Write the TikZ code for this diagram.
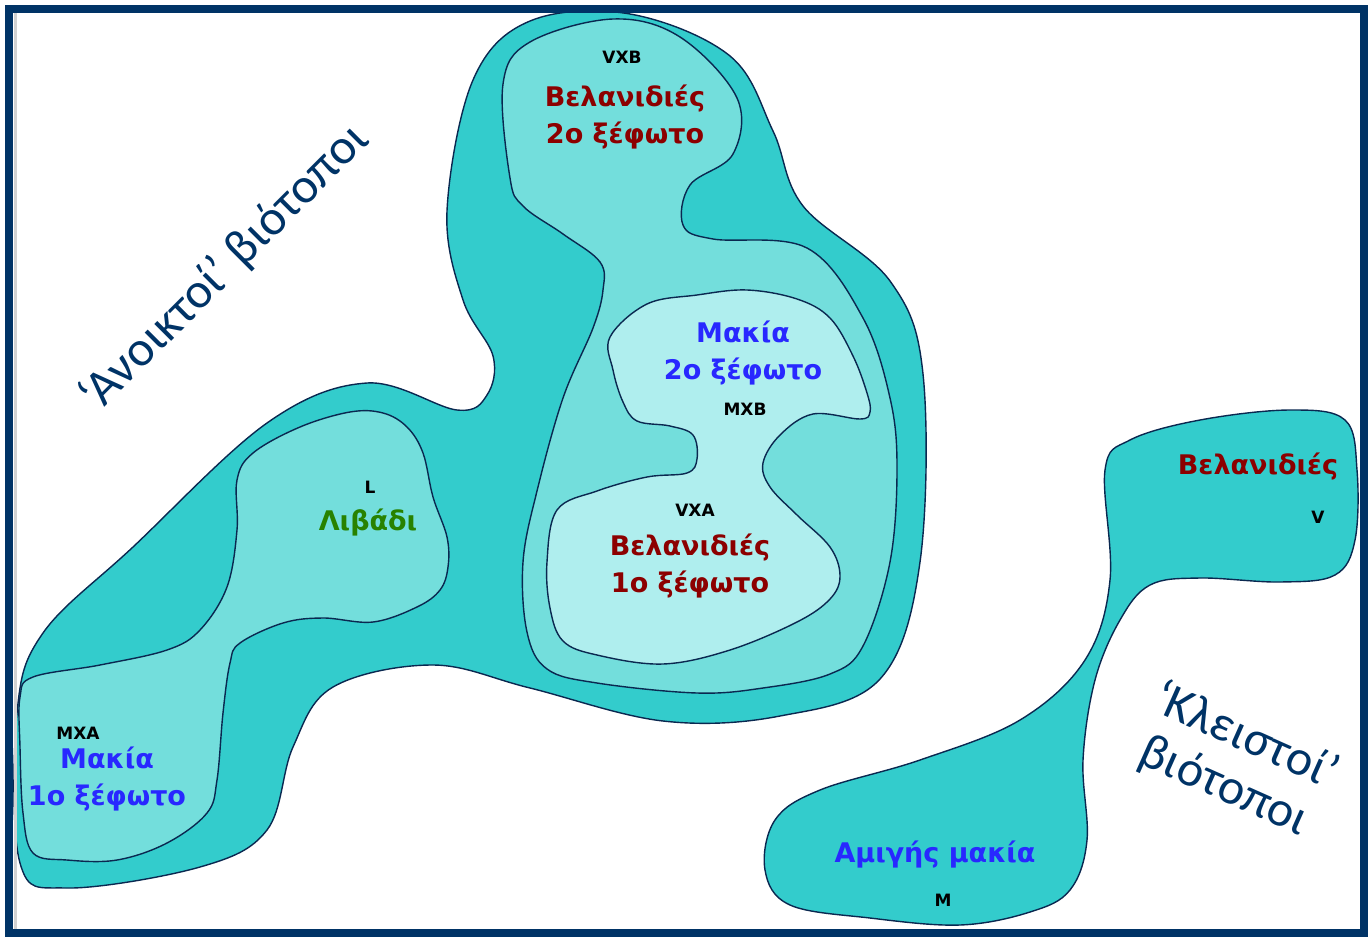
\documentclass[tikz,border=0pt]{standalone}
\usepackage{fontspec}
\setmainfont{DejaVu Sans}
\newfontfamily\calib{Carlito}
\usepackage{xcolor}

\definecolor{navy}{RGB}{0,51,102}
\definecolor{outline}{RGB}{10,40,80}
\definecolor{tealD}{RGB}{51,204,204}
\definecolor{tealM}{RGB}{115,222,220}
\definecolor{tealL}{RGB}{175,238,238}
\definecolor{oakred}{RGB}{140,0,0}
\definecolor{scrubblue}{RGB}{40,40,255}
\definecolor{grassgreen}{RGB}{40,130,0}

\begin{document}
\begin{tikzpicture}[
    x=0.5pt, y=-0.5pt,
    zone/.style={draw=outline, line width=0.7pt},
    codelbl/.style={font=\fontsize{8.5}{9}\selectfont\bfseries},
    habitat/.style={font=\fontsize{13.5}{18.5}\selectfont\bfseries, align=center},
    biotope/.style={font=\calib\fontsize{25}{27}\selectfont, text=navy, align=center},
]

\useasboundingbox (0,0) rectangle (1368,937);

% 'open' habitats: outer zone
\draw[zone, fill=tealD] plot[smooth cycle, tension=0.6] coordinates {
    (530,21) (630,14) (730,56) (773,131) (803,206) (890,281) (923,374)
    (920,562) (880,679) (780,716) (663,721) (530,688) (433,665) (333,687)
    (293,747) (267,830) (200,867) (67,888) (20,863) (17,713) (43,633)
    (133,547) (267,423) (367,383) (457,410) (487,395) (493,356) (463,300)
    (447,211) (473,80)};

% middle zone, centre
\draw[zone, fill=tealM] plot[smooth cycle, tension=0.6] coordinates {
    (503,84) (530,42) (613,19) (680,37) (737,98) (733,154) (690,185)
    (683,225) (713,239) (807,248) (863,318) (890,398) (897,468) (890,562)
    (863,646) (830,674) (763,688) (697,693) (597,683) (547,669) (527,632)
    (523,562) (537,491) (563,398) (593,328) (603,290) (600,262) (563,234)
    (523,206) (510,178)};

% middle zone, left arm
\draw[zone, fill=tealM] plot[smooth cycle, tension=0.6] coordinates {
    (237,480) (253,453) (300,427) (350,412) (383,413) (407,427) (423,453)
    (433,497) (447,537) (448,567) (440,590) (417,607) (373,622) (323,618)
    (283,623) (240,643) (230,663) (223,713) (217,780) (207,813) (167,843)
    (117,860) (67,860) (33,853) (23,813) (20,747) (20,697) (33,677)
    (100,665) (167,650) (200,630) (227,587) (237,530)};

% inner zone
\draw[zone, fill=tealL] plot[smooth cycle, tension=0.6] coordinates {
    (610,337) (647,304) (697,295) (747,290) (797,299) (830,318) (853,356)
    (867,393) (870,412) (860,419) (813,414) (780,435) (763,463) (770,487)
    (797,515) (830,547) (840,576) (830,599) (797,622) (730,650) (663,664)
    (597,655) (563,641) (550,608) (547,562) (557,510) (597,491) (647,477)
    (687,473) (697,459) (693,435) (670,426) (637,421) (623,402) (613,370)};

% 'closed' habitats
\draw[zone, fill=tealD] plot[smooth cycle, tension=0.6] coordinates {
    (1105,470) (1130,440) (1200,420) (1290,410) (1345,420) (1357,470)
    (1355,540) (1335,575) (1280,582) (1200,578) (1150,585) (1120,620)
    (1095,680) (1083,760) (1087,840) (1070,890) (1030,912) (960,925)
    (870,918) (790,905) (765,870) (775,820) (820,790) (920,760)
    (1020,720) (1085,660) (1110,580)};

% frame
\draw[gray!35, line width=1.5pt] (15.5,13) -- (15.5,937);
\draw[navy, line width=4pt] (9,9) rectangle (1364,933);

% labels
\node[codelbl] (vxb) at (622,57) {VXB};
\node[habitat, text=oakred] (oak2) at (625,117) {Βελανιδιές\\2ο ξέφωτο};
\node[habitat, text=scrubblue] (scrub2) at (743,353) {Μακία\\2ο ξέφωτο};
\node[codelbl] (mxb) at (745,409) {MXB};
\node[codelbl] (vxa) at (695,510) {VXA};
\node[habitat, text=oakred] (oak1) at (690,566) {Βελανιδιές\\1ο ξέφωτο};
\node[codelbl] (l) at (370,487) {L};
\node[habitat, text=grassgreen] (meadow) at (368,523) {Λιβάδι};
\node[codelbl] (mxa) at (78,733) {MXA};
\node[habitat, text=scrubblue] (scrub1) at (107,779) {Μακία\\1ο ξέφωτο};
\node[habitat, text=oakred] (oak) at (1258,467) {Βελανιδιές};
\node[codelbl] (v) at (1318,517) {V};
\node[habitat, text=scrubblue] (pure) at (935,855) {Αμιγής μακία};
\node[codelbl] (m) at (943,900) {M};

\node[biotope, rotate=45] (open) at (225,268) {‘Ανοικτοί’ βιότοποι};
\node[biotope, rotate=-24] (closed) at (1235,762) {‘Κλειστοί’\\βιότοποι};

\end{tikzpicture}
\end{document}
